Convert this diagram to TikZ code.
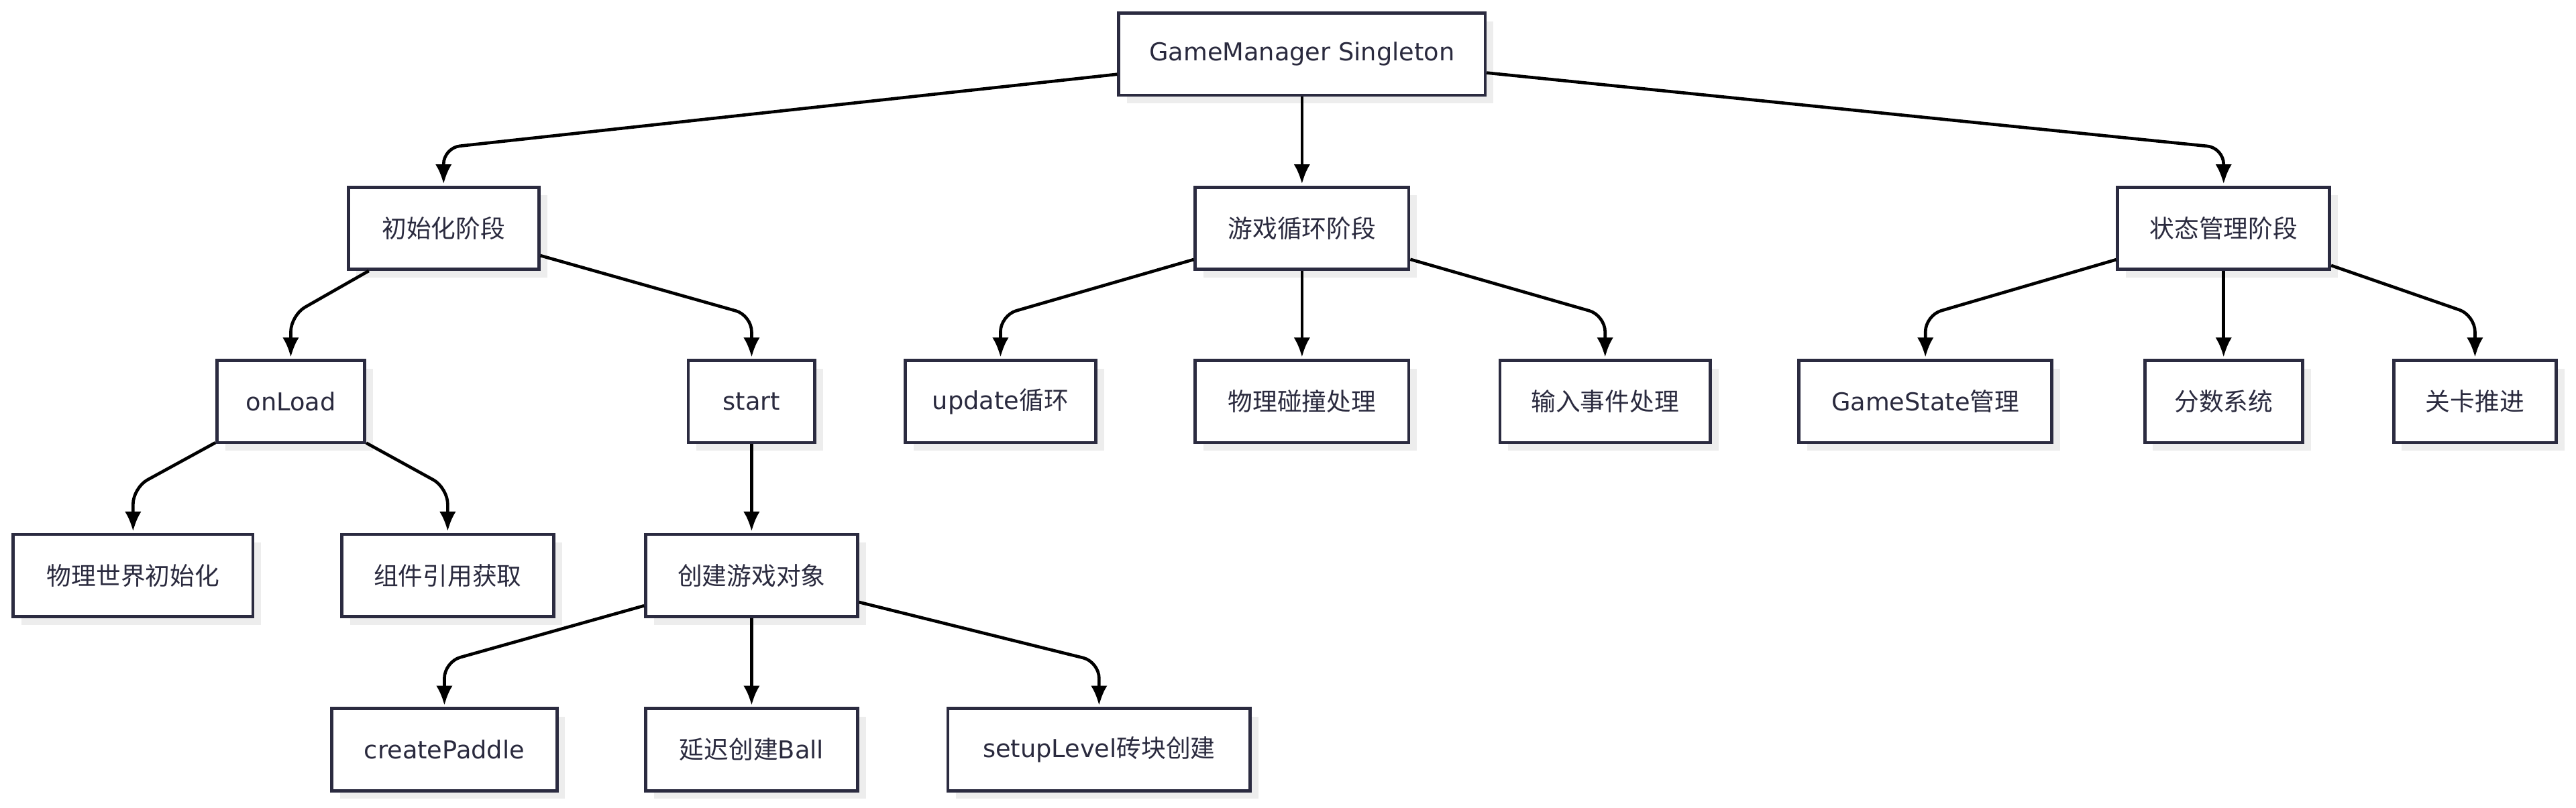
\documentclass[tikz,border=0pt]{standalone}
\usepackage{fontspec}
\setmainfont{DejaVu Sans}
\newfontfamily\cjk{Noto Sans CJK SC}
\usetikzlibrary{arrows.meta,shadows}
\definecolor{boxline}{HTML}{2B2B40}
\definecolor{boxtext}{HTML}{2A2A3E}
\definecolor{shadowc}{HTML}{EDEDED}
\tikzset{
  box/.style={draw=boxline, line width=1.9pt, fill=white, minimum height=50pt,
    inner sep=0pt, text=boxtext, font=\fontsize{15}{18}\selectfont,
    drop shadow={shadow xshift=5pt, shadow yshift=-5pt, fill=shadowc, opacity=1}},
  edge/.style={draw=black, line width=1.9pt, rounded corners=10pt,
    -{Latex[length=12pt,width=10pt]}, shorten >=1pt}
}
\begin{document}
\begin{tikzpicture}[x=1pt,y=-1pt]
\useasboundingbox (0,0) rectangle (1568,492);
% level 0
\node[box, minimum width=223pt] (gm) at (792.5,33) {GameManager Singleton};
% level 1
\node[box, minimum width=116pt] (init) at (270,139) {\cjk 初始化阶段};
\node[box, minimum width=130pt] (loop) at (792.5,139) {\cjk 游戏循环阶段};
\node[box, minimum width=129pt] (state) at (1353.5,139) {\cjk 状态管理阶段};
% level 2
\node[box, minimum width=90pt] (onload) at (177,244.5) {onLoad};
\node[box, minimum width=77pt] (start) at (457.5,244.5) {start};
\node[box, minimum width=116pt] (update) at (609,244.5) {update{\cjk 循环}};
\node[box, minimum width=130pt] (phys) at (792.5,244.5) {\cjk 物理碰撞处理};
\node[box, minimum width=128pt] (input) at (977,244.5) {\cjk 输入事件处理};
\node[box, minimum width=154pt] (gstate) at (1172,244.5) {GameState{\cjk 管理}};
\node[box, minimum width=96pt] (score) at (1353.5,244.5) {\cjk 分数系统};
\node[box, minimum width=99pt] (level) at (1506.5,244.5) {\cjk 关卡推进};
% level 3
\node[box, minimum width=146pt] (world) at (81,350.5) {\cjk 物理世界初始化};
\node[box, minimum width=129pt] (comp) at (272.5,350.5) {\cjk 组件引用获取};
\node[box, minimum width=129pt] (create) at (457.5,350.5) {\cjk 创建游戏对象};
% level 4
\node[box, minimum width=137pt] (paddle) at (270.5,456.5) {createPaddle};
\node[box, minimum width=129pt] (ball) at (457.5,456.5) {{\cjk 延迟创建}Ball};
\node[box, minimum width=184pt] (setup) at (669,456.5) {setupLevel{\cjk 砖块创建}};
% edges level 1
\draw[edge] (gm) -- (270,90) -- (init.north);
\draw[edge] (gm) -- (loop);
\draw[edge] (gm) -- (1353.5,90) -- (state.north);
% edges level 2
\draw[edge] (init) -- (177,192) -- (onload.north);
\draw[edge] (init) -- (457.5,192) -- (start.north);
\draw[edge] (loop) -- (609,192) -- (update.north);
\draw[edge] (loop) -- (phys);
\draw[edge] (loop) -- (977,192) -- (input.north);
\draw[edge] (state) -- (1172,192) -- (gstate.north);
\draw[edge] (state) -- (score);
\draw[edge] (state) -- (1506.5,192) -- (level.north);
% edges level 3
\draw[edge] (onload) -- (81,297) -- (world.north);
\draw[edge] (onload) -- (272.5,297) -- (comp.north);
\draw[edge] (start) -- (create);
% edges level 4
\draw[edge] (create) -- (270.5,403) -- (paddle.north);
\draw[edge] (create) -- (ball);
\draw[edge] (create) -- (669,403) -- (setup.north);
\end{tikzpicture}
\end{document}
